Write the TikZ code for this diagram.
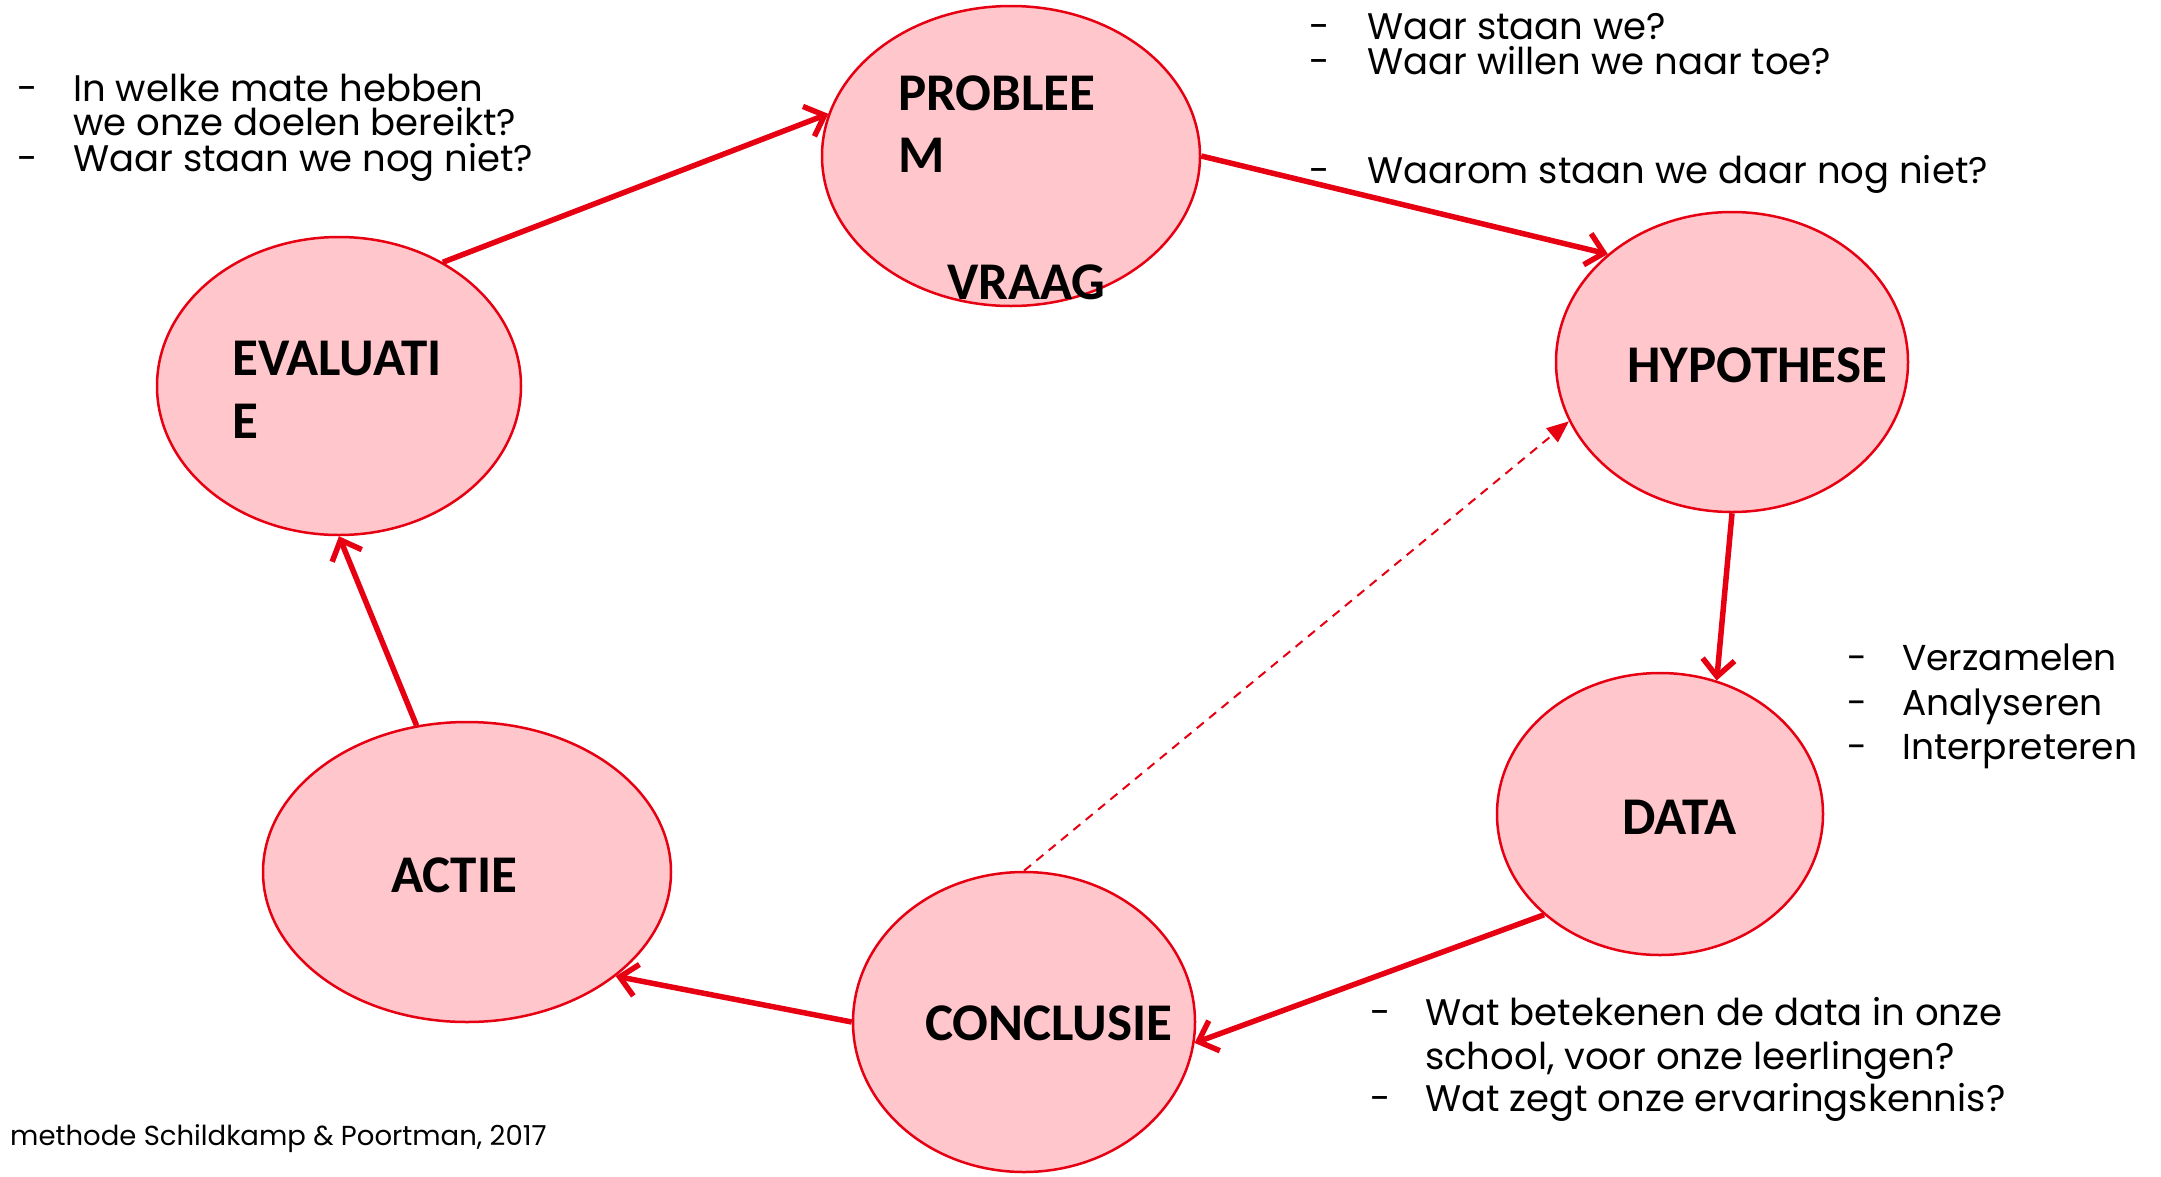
\documentclass[tikz,border=0pt]{standalone}
\usepackage{fontspec}
\setmainfont{Poppins}
\newfontfamily\lblfont{Carlito}
\usetikzlibrary{shapes.geometric,arrows.meta}
\definecolor{cred}{RGB}{230,0,18}
\definecolor{cpink}{RGB}{255,198,204}
\begin{document}
\begin{tikzpicture}[x=1pt,y=-1pt,
  stage/.style={ellipse,draw=cred,fill=cpink,line width=2.5pt,inner sep=0pt},
  lbl/.style={anchor=base west,inner sep=0pt,font=\lblfont\bfseries\fontsize{53}{60}\selectfont},
  q/.style={anchor=base west,inner sep=0pt,font=\fontsize{37}{42}\selectfont},
  qs/.style={anchor=base west,inner sep=0pt,font=\fontsize{36}{42}\selectfont},
  credit/.style={anchor=base west,inner sep=0pt,font=\fontsize{27.5}{32}\selectfont},
  flow/.style={draw=cred,line width=5.5pt,-{Straight Barb[length=17pt,width=32pt]}},
  back/.style={draw=cred,line width=2pt,dash pattern=on 9pt off 7pt,-{Triangle[length=22pt,width=18pt]}}]
\useasboundingbox (0,0) rectangle (2161,1176);
% stages
\node[stage,minimum width=378pt,minimum height=300pt] (probleem) at (1011,156) {};
\node[stage,minimum width=352pt,minimum height=300pt] (hypothese) at (1732,362) {};
\node[stage,minimum width=326pt,minimum height=282pt] (data) at (1660,814) {};
\node[stage,minimum width=342pt,minimum height=300pt] (conclusie) at (1024,1022) {};
\node[stage,minimum width=408pt,minimum height=300pt] (actie) at (467,872) {};
\node[stage,minimum width=364pt,minimum height=298pt] (evaluatie) at (339,386) {};
% stage labels
\node[lbl] (lp1) at (898,110) {PROBLEE};
\node[lbl] (lp2) at (898,172) {M};
\node[lbl] (lp3) at (947,299) {VRAAG};
\node[lbl] (lh) at (1627,382) {HYPOTHESE};
\node[lbl] (ld) at (1622,834) {DATA};
\node[lbl] (lc) at (925,1040) {CONCLUSIE};
\node[lbl] (la) at (391,892) {ACTIE};
\node[lbl] (le1) at (232,375) {EVALUATI};
\node[lbl] (le2) at (232,438) {E};
% connectors
\draw[flow] (evaluatie.50.6) -- (probleem.167.4);
\draw[flow] (probleem.0) -- (hypothese.139.8);
\draw[flow] (hypothese.270) -- (data.67);
\draw[flow] (data.221.3) -- (conclusie.-7.4);
\draw[flow] (conclusie.180) -- (actie.-35.4);
\draw[flow] (actie.109.4) -- (evaluatie.270);
\draw[back] (conclusie.90) -- (hypothese.200.7);
% top-left questions
\node[q] (d1) at (17,101) {-};
\node[q] (q1) at (73,101) {In welke mate hebben};
\node[q] (q2) at (73,135) {we onze doelen bereikt?};
\node[q] (d2) at (17,171) {-};
\node[q] (q3) at (73,171) {Waar staan we nog niet?};
% top-right questions
\node[q] (d3) at (1309,39) {-};
\node[q] (q4) at (1367,39) {Waar staan we?};
\node[q] (d4) at (1309,74) {-};
\node[q] (q5) at (1367,74) {Waar willen we naar toe?};
\node[q] (d5) at (1309,183) {-};
\node[q] (q6) at (1367,183) {Waarom staan we daar nog niet?};
% data questions
\node[qs] (d6) at (1847,670) {-};
\node[qs] (q7) at (1902,670) {Verzamelen};
\node[qs] (d7) at (1847,715) {-};
\node[qs] (q8) at (1902,715) {Analyseren};
\node[qs] (d8) at (1847,759) {-};
\node[qs] (q9) at (1902,759) {Interpreteren};
% conclusion questions
\node[q] (d9) at (1370,1025) {-};
\node[q] (q10) at (1425,1025) {Wat betekenen de data in onze};
\node[q] (q11) at (1425,1069) {school, voor onze leerlingen?};
\node[q] (d10) at (1370,1111) {-};
\node[q] (q12) at (1425,1111) {Wat zegt onze ervaringskennis?};
% credit
\node[credit] (cr) at (10,1145) {methode Schildkamp \& Poortman, 2017};
\end{tikzpicture}
\end{document}
